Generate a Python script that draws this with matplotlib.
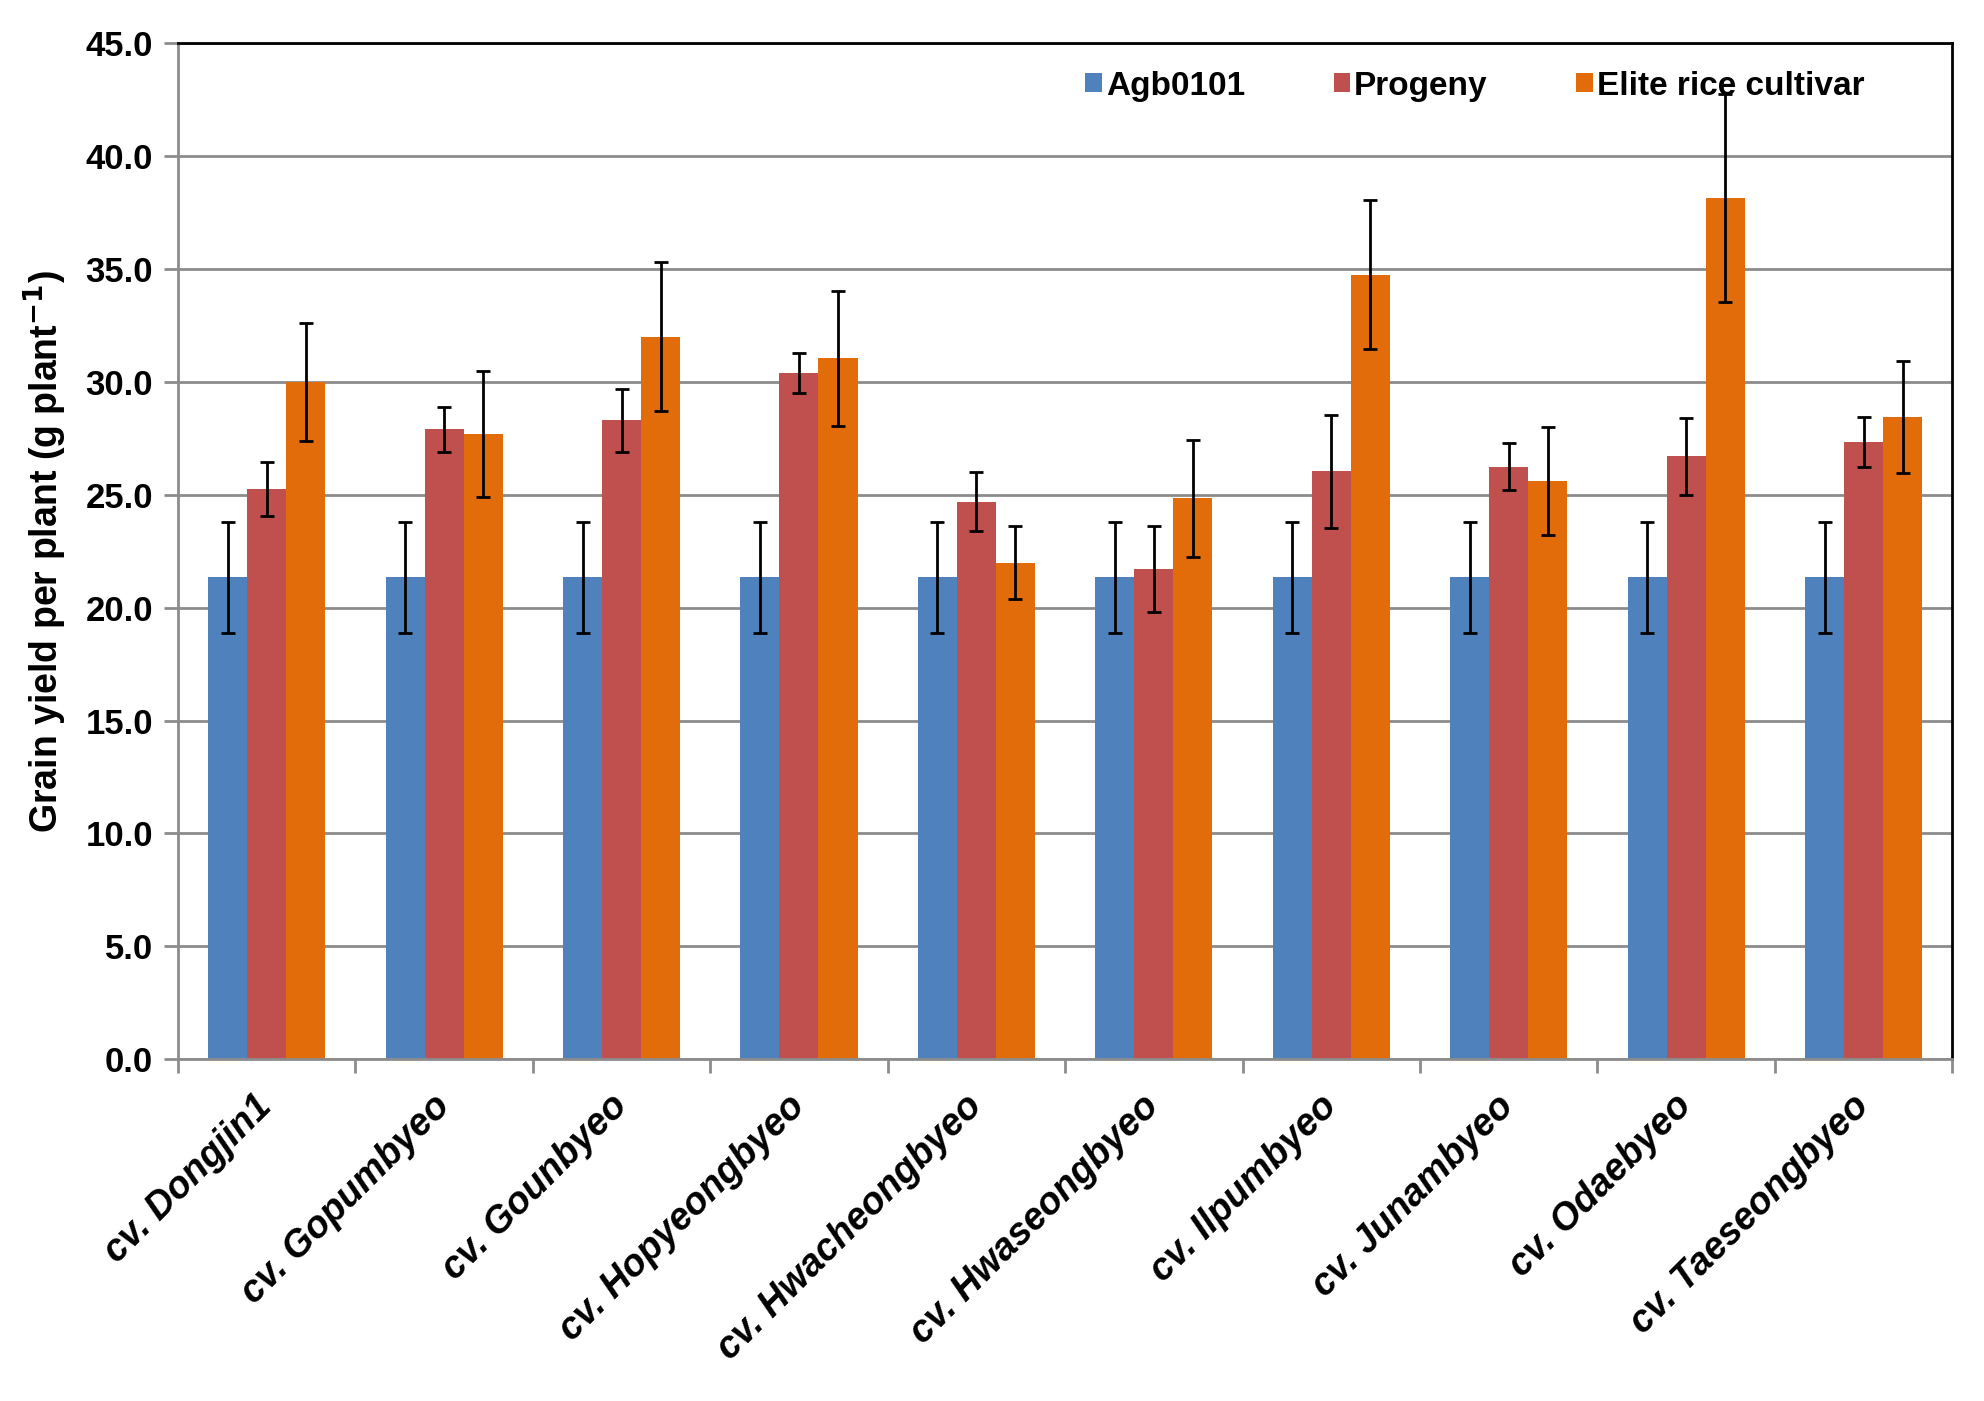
import matplotlib
matplotlib.use("Agg")
import matplotlib.pyplot as plt
import numpy as np
from matplotlib.patches import Patch

plt.rcParams['font.family'] = ['Liberation Sans', 'DejaVu Sans']

categories = ["cv. Dongjin1", "cv. Gopumbyeo", "cv. Gounbyeo", "cv. Hopyeongbyeo",
              "cv. Hwacheongbyeo", "cv. Hwaseongbyeo", "cv. Ilpumbyeo", "cv. Junambyeo",
              "cv. Odaebyeo", "cv. Taeseongbyeo"]
series_names = ["Agb0101", "Progeny", "Elite rice cultivar"]

agb = [21.35, 21.35, 21.35, 21.35, 21.35, 21.35, 21.35, 21.35, 21.35, 21.35]
agb_err = [2.45, 2.45, 2.45, 2.45, 2.45, 2.45, 2.45, 2.45, 2.45, 2.45]
progeny = [25.25, 27.9, 28.3, 30.4, 24.7, 21.7, 26.05, 26.25, 26.7, 27.35]
progeny_err = [1.2, 1.0, 1.4, 0.9, 1.3, 1.9, 2.5, 1.05, 1.7, 1.1]
elite = [30.0, 27.7, 32.0, 31.05, 22.0, 24.85, 34.75, 25.6, 38.15, 28.45]
elite_err = [2.6, 2.8, 3.3, 3.0, 1.6, 2.6, 3.3, 2.4, 4.6, 2.5]

yticks = [0, 5, 10, 15, 20, 25, 30, 35, 40, 45]

colors = ["#4F81BD", "#C0504D", "#E36C0A"]
grid_gray = "#8C8C8C"

fig = plt.figure(figsize=(19.84, 14.01), dpi=100)
ax = fig.add_axes([0.0897, 0.244, 0.8943, 0.725])

n = len(categories)
x = np.arange(n)
w = 0.22
data = [(agb, agb_err), (progeny, progeny_err), (elite, elite_err)]
for i, (vals, errs) in enumerate(data):
    ax.bar(x + (i - 1) * w, vals, width=w, color=colors[i], zorder=2,
           yerr=errs, error_kw=dict(ecolor='black', elinewidth=2, capsize=5,
                                    capthick=2, zorder=3))

ax.set_xlim(-0.5, n - 0.5)
ax.set_ylim(0, 45)
ax.set_yticks(yticks)
ax.set_yticklabels([f"{v:.1f}" for v in yticks], fontsize=25, fontweight='bold')
ax.yaxis.grid(True, color=grid_gray, linewidth=2, zorder=0)
ax.set_axisbelow(True)

# major ticks at group boundaries, labels at centers (minor)
ax.set_xticks(np.arange(-0.5, n, 1.0))
ax.set_xticklabels([])
ax.set_xticks(x, minor=True)
ax.set_xticklabels(categories, minor=True, fontsize=27, fontweight='bold',
                   fontstyle='italic', rotation=45, ha='right', va='center',
                   rotation_mode='anchor')
ax.tick_params(axis='x', which='minor', length=0, pad=30)
ax.tick_params(axis='x', which='major', length=10, width=2, color=grid_gray)
ax.tick_params(axis='y', length=10, width=2, color=grid_gray, pad=8)

for s in ['left', 'bottom']:
    ax.spines[s].set_color(grid_gray)
    ax.spines[s].set_linewidth(2)
for s in ['top', 'right']:
    ax.spines[s].set_color('black')
    ax.spines[s].set_linewidth(2)

ax.set_ylabel("Grain yield per plant (g plant$^{\\mathbf{-1}}$)", fontsize=27,
              fontweight='bold', labelpad=12)

handles = [Patch(facecolor=c, edgecolor='none') for c in colors]
ax.legend(handles, series_names, loc='center', bbox_to_anchor=(0.731, 0.958),
          ncol=3, frameon=False, handlelength=0.5, handleheight=0.5,
          handletextpad=0.12, columnspacing=2.65, prop=dict(weight='bold', size=24))

fig.savefig("out.png", dpi=100)
